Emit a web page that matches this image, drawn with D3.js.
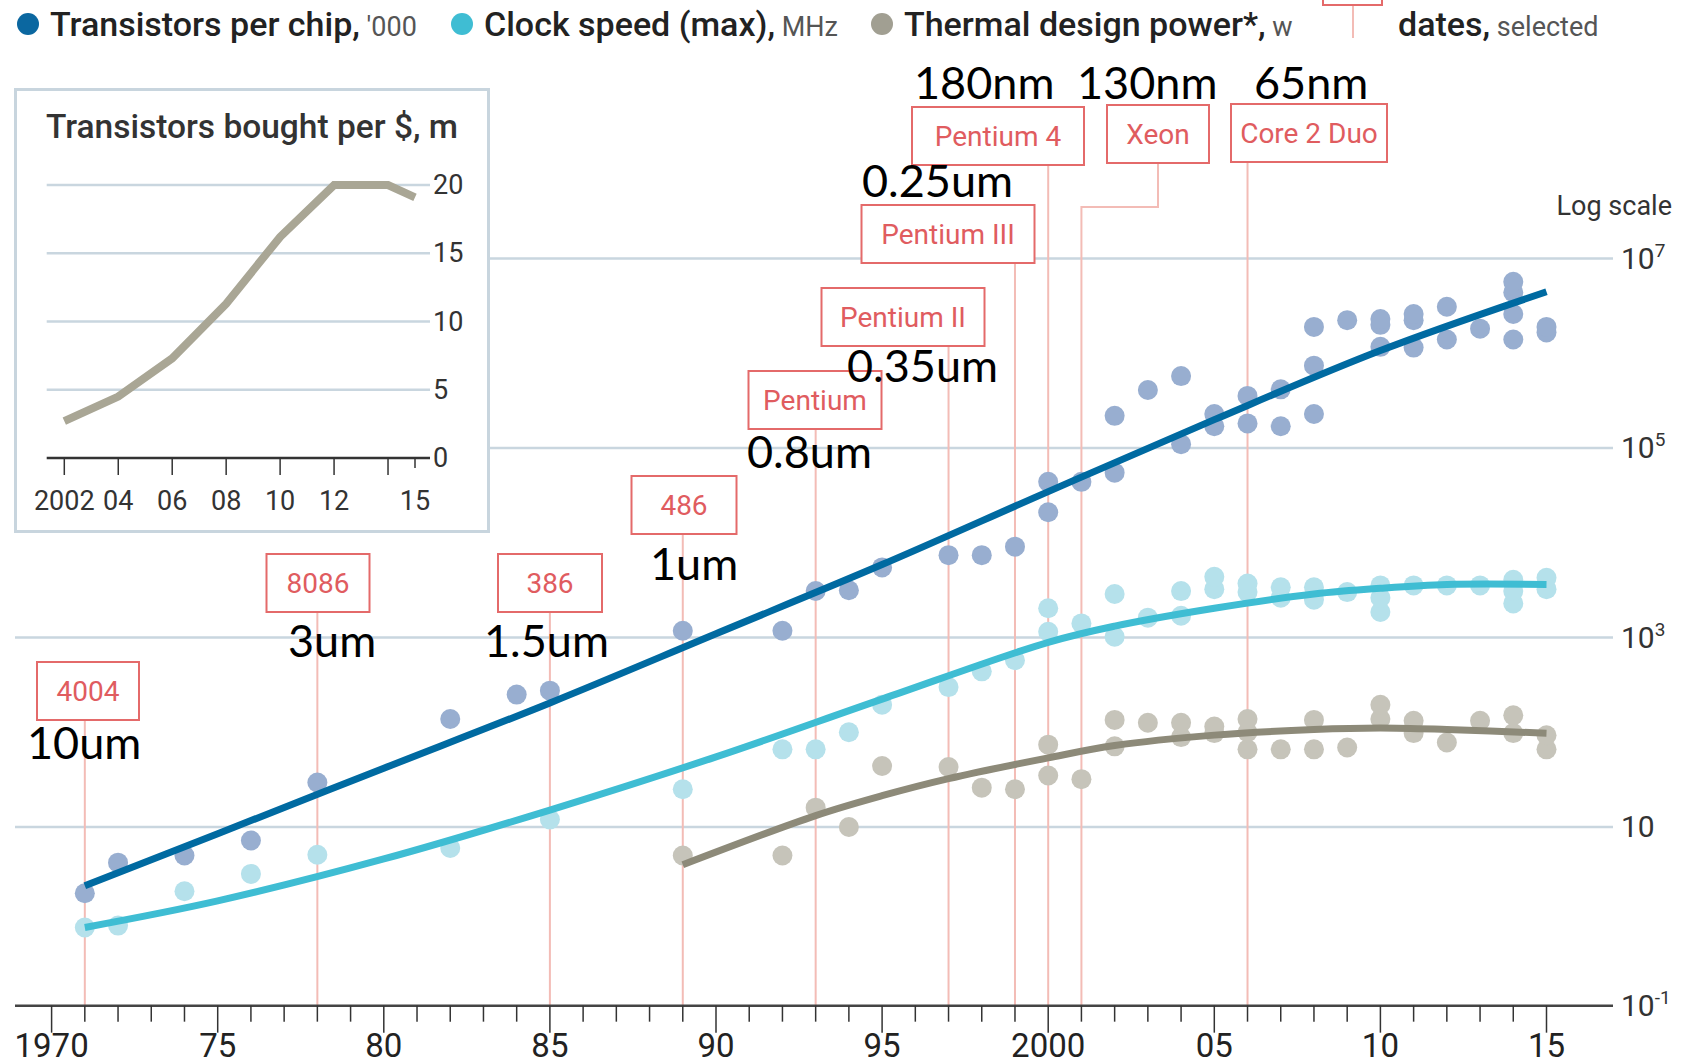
<!DOCTYPE html>
<html>
<head>
<meta charset="utf-8">
<script src="https://cdn.jsdelivr.net/npm/d3@7"></script>
<style>
  body { margin: 0; background: #fff; }
  svg { display: block; }
</style>
</head>
<body>
<div id="chart"></div>
<script>
const width = 1686;
const height = 1064;

// dots: [year, value]
const transistorPoints = [
  [1971, 2.0], [1972, 4.2], [1974, 5], [1976, 7.2], [1978, 29.5], [1982, 138], [1984, 250], [1985, 275],
  [1989, 1180], [1992, 1180], [1993, 3100], [1994, 3160], [1995, 5500], [1997, 7400], [1998, 7400], [1999, 9100],
  [2000, 21000], [2000, 44000], [2001, 44000], [2002, 55000], [2002, 219000], [2003, 410000],
  [2004, 110000], [2004, 575000], [2005, 170000], [2005, 229000], [2006, 182000], [2006, 355000],
  [2007, 170000], [2007, 417000], [2008, 229000], [2008, 741000], [2008, 1.9e6], [2009, 2.24e6],
  [2010, 1.17e6], [2010, 2.0e6], [2010, 2.3e6], [2011, 1.15e6], [2011, 2.24e6], [2011, 2.6e6],
  [2012, 1.4e6], [2012, 3.1e6], [2013, 1.82e6], [2014, 1.4e6], [2014, 2.6e6], [2014, 4.4e6], [2014, 5.7e6],
  [2015, 1.66e6], [2015, 1.9e6]
];
const clockPoints = [
  [1971, 0.87], [1972, 0.91], [1974, 2.1], [1976, 3.2], [1978, 5.1], [1982, 6], [1985, 12],
  [1989, 25], [1992, 66], [1993, 66], [1994, 100], [1995, 195], [1997, 300], [1998, 440], [1999, 575],
  [2000, 1150], [2000, 2040], [2001, 1410], [2002, 1020], [2002, 2880], [2003, 1620],
  [2004, 1700], [2004, 3090], [2005, 3240], [2005, 4370], [2006, 3020], [2006, 3720],
  [2007, 2630], [2007, 3390], [2008, 2510], [2008, 3390], [2009, 3020],
  [2010, 1860], [2010, 2630], [2010, 3550], [2011, 3550], [2012, 3550], [2013, 3550],
  [2014, 2290], [2014, 3090], [2014, 4070], [2015, 3240], [2015, 4270]
];
const tdpPoints = [
  [1989, 5], [1992, 5], [1993, 16], [1994, 10], [1995, 44], [1997, 43], [1998, 26], [1999, 25],
  [2000, 35], [2000, 74], [2001, 32], [2002, 71], [2002, 135], [2003, 126], [2004, 89], [2004, 126],
  [2005, 98], [2005, 115], [2006, 66], [2006, 100], [2006, 138], [2007, 66], [2008, 66], [2008, 135],
  [2009, 69], [2010, 138], [2010, 195], [2011, 98], [2011, 132], [2012, 78], [2013, 132],
  [2014, 98], [2014, 151], [2015, 66], [2015, 93]
];

// fitted trend lines: [year, value]
const transistorTrend = [
  [1971, 2.4], [1975, 8.5], [1980, 41.7], [1985, 204], [1990, 1096], [1995, 5890],
  [2000, 34700], [2005, 199500], [2010, 1.07e6], [2015, 4.47e6]
];
const clockTrend = [
  [1971, 0.87], [1975, 1.66], [1980, 4.6], [1985, 15.1], [1990, 55], [1995, 224],
  [2000, 890], [2002, 1320], [2005, 2040], [2008, 2880], [2010, 3310], [2012, 3630], [2015, 3630]
];
const tdpTrend = [
  [1989, 4.0], [1993, 13.2], [1995, 21.4], [1997, 32.4], [2000, 53.7], [2002, 72.4],
  [2005, 93.3], [2008, 107], [2010, 111], [2012, 107], [2015, 97.7]
];

// chip introduction dates, selected
const chipNames = ['4004', '8086', '386', '486', 'Pentium', 'Pentium II', 'Pentium III', 'Pentium 4', 'Xeon', 'Core 2 Duo'];
const chipYears = [1971, 1978, 1985, 1989, 1993, 1997, 1999, 2000, 2001, 2006];
const processNodes = ['10um', '3um', '1.5um', '1um', '0.8um', '0.35um', '0.25um', '180nm', '130nm', '65nm'];

// inset: transistors bought per $, m
const insetYears = [2002, 2004, 2006, 2008, 2010, 2012, 2014, 2015];
const insetValues = [2.7, 4.5, 7.3, 11.3, 16.2, 20, 20, 19.1];
const insetTickYears = [2002, 2004, 2006, 2008, 2010, 2012, 2014, 2015];
const insetTickLabels = ['2002', '04', '06', '08', '10', '12', '', '15'];
const insetYTicks = [0, 5, 10, 15, 20];

const xTickYears = [1970, 1975, 1980, 1985, 1990, 1995, 2000, 2005, 2010, 2015];
const xTickLabels = ['1970', '75', '80', '85', '90', '95', '2000', '05', '10', '15'];
const yTickValues = [1e7, 1e5, 1e3, 10, 0.1];
const yTickExponents = ['7', '5', '3', '', '-1'];

// layout of the red chip boxes: centre x, top y and width in pixels
const chipBoxX = [88, 318, 550, 684, 815, 903, 948, 998, 1158, 1309];
const chipBoxTop = [662, 554, 554, 476, 371, 288, 205, 107, 105, 104];
const chipBoxW = [102, 103, 104, 105, 133, 163, 173, 172, 102, 156];
// process labels: left x and baseline y
const nodeLabelX = [27, 288, 484, 650, 747, 847, 862, 914, 1077, 1254];
const nodeLabelY = [759, 657, 657, 580, 468, 382, 197, 99, 99, 99];

const econFont = 'Roboto, "Noto Sans", sans-serif';

const svg = d3.select('#chart')
  .append('svg')
  .attr('width', width)
  .attr('height', height);

const x = d3.scaleLinear().domain([1970, 2015]).range([51.6, 1546.5]);
const y = d3.scaleLog().domain([10, 1e7]).range([827, 258.6]);
const yFloor = 0.13;
const plotLeft = 15, plotRight = 1613;

// gridlines
svg.append('g')
  .selectAll('line')
  .data(yTickValues.filter((v) => v > 1))
  .join('line')
  .attr('x1', plotLeft)
  .attr('x2', plotRight)
  .attr('y1', (d) => y(d))
  .attr('y2', (d) => y(d))
  .attr('stroke', '#c9d6df')
  .attr('stroke-width', 2.5);

// y labels
const yLab = svg.append('g')
  .selectAll('text')
  .data(yTickValues)
  .join('text')
  .attr('x', 1621)
  .attr('y', (d) => Math.min(y(d), y(yFloor)) + 10)
  .attr('font-family', econFont)
  .attr('font-size', 30)
  .attr('fill', '#333');
yLab.append('tspan').text('10');
yLab.append('tspan')
  .attr('dy', -12)
  .attr('font-size', 19)
  .text((d, i) => yTickExponents[i]);

svg.append('text')
  .attr('x', 1672)
  .attr('y', 215)
  .attr('text-anchor', 'end')
  .attr('font-family', econFont)
  .attr('font-size', 27)
  .attr('fill', '#333')
  .text('Log scale');

// red chip lines (behind dots)
const boxH = 58;
const redLines = svg.append('g')
  .attr('fill', 'none')
  .attr('stroke', '#f3bcb6')
  .attr('stroke-width', 2);
chipYears.forEach((yr, i) => {
  const bx = x(yr);
  const top = chipBoxTop[i] + boxH;
  let path;
  if (chipNames[i] === 'Xeon') {
    path = `M${chipBoxX[i]},${top}V207H${bx}V${y(yFloor)}`;
  } else {
    path = `M${bx},${top}V${y(yFloor)}`;
  }
  redLines.append('path').attr('d', path);
});
// legend key stub
svg.append('rect')
  .attr('x', 1323).attr('y', -10).attr('width', 59).attr('height', 15)
  .attr('fill', 'none').attr('stroke', '#e46a6a').attr('stroke-width', 2);
svg.append('line')
  .attr('x1', 1353).attr('x2', 1353).attr('y1', 6).attr('y2', 38)
  .attr('stroke', '#f3bcb6').attr('stroke-width', 2);

// inset box
const inset = svg.append('g');
inset.append('rect')
  .attr('x', 15.5).attr('y', 89.5).attr('width', 473).attr('height', 442)
  .attr('fill', '#fff')
  .attr('stroke', '#c8d5de')
  .attr('stroke-width', 3);

// dots
function drawDots(points, color) {
  svg.append('g')
    .selectAll('circle')
    .data(points)
    .join('circle')
    .attr('cx', (d) => x(d[0]))
    .attr('cy', (d) => y(d[1]))
    .attr('r', 10)
    .attr('fill', color);
}
drawDots(clockPoints, '#b5e1eb');
drawDots(tdpPoints, '#c6c4ba');
drawDots(transistorPoints, '#98aed0');

// trend lines
const trendLine = d3.line()
  .x((d) => x(d[0]))
  .y((d) => y(d[1]))
  .curve(d3.curveCatmullRom.alpha(0.5));
[[tdpTrend, '#8d8a79'], [clockTrend, '#3fbdd3'], [transistorTrend, '#006aa1']].forEach(([data, color]) => {
  svg.append('path')
    .datum(data)
    .attr('d', trendLine)
    .attr('fill', 'none')
    .attr('stroke', color)
    .attr('stroke-width', 7);
});

// chip boxes
chipNames.forEach((name, i) => {
  const g = svg.append('g');
  g.append('rect')
    .attr('x', chipBoxX[i] - chipBoxW[i] / 2)
    .attr('y', chipBoxTop[i])
    .attr('width', chipBoxW[i])
    .attr('height', boxH)
    .attr('fill', '#fff')
    .attr('stroke', '#e46a6a')
    .attr('stroke-width', 2);
  g.append('text')
    .attr('x', chipBoxX[i])
    .attr('y', chipBoxTop[i] + boxH / 2 + 10)
    .attr('text-anchor', 'middle')
    .attr('font-family', econFont)
    .attr('font-size', 28)
    .attr('fill', '#e05c5f')
    .text(name);
});

// process node labels
svg.append('g')
  .selectAll('text')
  .data(processNodes)
  .join('text')
  .attr('x', (d, i) => nodeLabelX[i])
  .attr('y', (d, i) => nodeLabelY[i])
  .attr('font-family', 'Lato, "Open Sans", sans-serif')
  .attr('font-size', 45)
  .attr('fill', '#000')
  .text((d) => d);

// x axis
const xAxisY = y(yFloor);
svg.append('line')
  .attr('x1', plotLeft).attr('x2', plotRight)
  .attr('y1', xAxisY).attr('y2', xAxisY)
  .attr('stroke', '#444').attr('stroke-width', 2.5);
svg.append('g')
  .selectAll('line')
  .data(d3.range(1970, 2016))
  .join('line')
  .attr('x1', (d) => x(d)).attr('x2', (d) => x(d))
  .attr('y1', xAxisY)
  .attr('y2', (d) => xAxisY + (d % 5 === 0 ? 27 : 16))
  .attr('stroke', '#333')
  .attr('stroke-width', 1.5);
svg.append('g')
  .selectAll('text')
  .data(xTickYears)
  .join('text')
  .attr('x', (d) => x(d))
  .attr('y', 1057)
  .attr('text-anchor', 'middle')
  .attr('font-family', econFont)
  .attr('font-size', 33)
  .attr('fill', '#222')
  .text((d, i) => xTickLabels[i]);

// inset chart
const ix = d3.scaleLinear().domain([2002, 2015]).range([64.3, 415]);
const iy = d3.scaleLinear().domain([0, 20]).range([458, 185]);
inset.append('g')
  .selectAll('line')
  .data(insetYTicks.filter((d) => d > 0))
  .join('line')
  .attr('x1', 46.7).attr('x2', 430)
  .attr('y1', (d) => iy(d)).attr('y2', (d) => iy(d))
  .attr('stroke', '#c9d6df').attr('stroke-width', 2.5);
inset.append('line')
  .attr('x1', 46.7).attr('x2', 430)
  .attr('y1', iy(0)).attr('y2', iy(0))
  .attr('stroke', '#333').attr('stroke-width', 2.5);
inset.append('g')
  .selectAll('line')
  .data(insetTickYears)
  .join('line')
  .attr('x1', (d) => ix(d)).attr('x2', (d) => ix(d))
  .attr('y1', iy(0))
  .attr('y2', (d) => iy(0) + (d === 2015 ? 10 : 17))
  .attr('stroke', '#333').attr('stroke-width', 1.5);
inset.append('g')
  .selectAll('text')
  .data(insetTickYears)
  .join('text')
  .attr('x', (d) => ix(d))
  .attr('y', 510)
  .attr('text-anchor', 'middle')
  .attr('font-family', econFont)
  .attr('font-size', 27)
  .attr('fill', '#333')
  .text((d, i) => insetTickLabels[i]);
inset.append('g')
  .selectAll('text')
  .data(insetYTicks)
  .join('text')
  .attr('x', 433)
  .attr('y', (d) => iy(d) + 9)
  .attr('font-family', econFont)
  .attr('font-size', 27)
  .attr('fill', '#333')
  .text((d) => d);
inset.append('path')
  .datum(d3.zip(insetYears, insetValues))
  .attr('d', d3.line().x((d) => ix(d[0])).y((d) => iy(d[1])))
  .attr('fill', 'none')
  .attr('stroke', '#a9a695')
  .attr('stroke-width', 8);
inset.append('text')
  .attr('x', 46)
  .attr('y', 138)
  .attr('font-family', econFont)
  .attr('font-size', 33.5)
  .attr('font-weight', 500)
  .attr('fill', '#333')
  .text('Transistors bought per $, m');

// legend
const legendItems = [
  { label: 'Transistors per chip,', unit: "'000", color: '#0b67a0', cx: 28 },
  { label: 'Clock speed (max),', unit: 'MHz', color: '#3fbdd3', cx: 462 },
  { label: 'Thermal design power*,', unit: 'w', color: '#a19f92', cx: 882 },
];
legendItems.forEach((d) => {
  svg.append('circle')
    .attr('cx', d.cx).attr('cy', 24).attr('r', 11)
    .attr('fill', d.color);
  const t = svg.append('text')
    .attr('x', d.cx + 22)
    .attr('y', 36)
    .attr('font-family', econFont)
    .attr('font-size', 34)
    .attr('font-weight', 500)
    .attr('fill', '#222');
  t.append('tspan').text(d.label);
  t.append('tspan')
    .attr('font-size', 27)
    .attr('font-weight', 400)
    .attr('fill', '#555')
    .text(' ' + d.unit);
});
const dates = svg.append('text')
  .attr('x', 1398)
  .attr('y', 36)
  .attr('font-family', econFont)
  .attr('font-size', 34)
  .attr('font-weight', 500)
  .attr('fill', '#222');
dates.append('tspan').text('dates,');
dates.append('tspan')
  .attr('font-size', 27)
  .attr('font-weight', 400)
  .attr('fill', '#555')
  .text(' selected');
</script>
</body>
</html>
